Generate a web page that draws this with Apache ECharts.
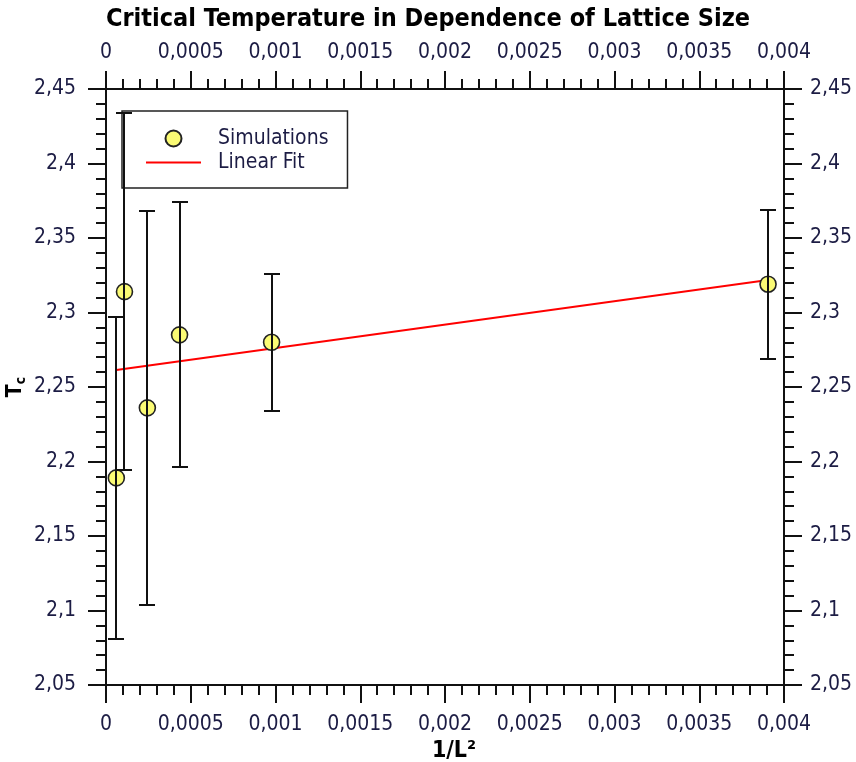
<!DOCTYPE html>
<html>
<head>
<meta charset="utf-8">
<title>Critical Temperature in Dependence of Lattice Size</title>
<script src="https://cdn.jsdelivr.net/npm/echarts@6/dist/echarts.min.js"></script>
<style>
  html, body { margin: 0; padding: 0; background: #ffffff; }
  #chart { width: 856px; height: 762px; }
</style>
</head>
<body>
<div id="chart"></div>
<script>
// Inverse squared lattice size 1/L^2 for each simulation
const invL2 = [0.000061, 0.000109, 0.000244, 0.000434, 0.000977, 0.003906];
// Critical temperature Tc obtained from each simulation
const tc = [2.189, 2.314, 2.236, 2.285, 2.280, 2.319];
// Uncertainty (half-length of the error bar) of each Tc
const tcErr = [0.108, 0.120, 0.132, 0.089, 0.046, 0.050];
// End points of the linear fit line
const fitX = [0.000061, 0.003906];
const fitY = [2.2614, 2.3218];

const FONT = "'DejaVu Sans Condensed', 'Noto Sans', sans-serif";
const LABEL_COLOR = '#1c1c44';

function commaNum(v) {
  return String(+v.toFixed(6)).replace('.', ',');
}

const chart = echarts.init(document.getElementById('chart'), null, { renderer: 'canvas' });

function xAxisDef(pos) {
  return {
    type: 'value',
    position: pos,
    min: 0,
    max: 0.004,
    interval: 0.0005,
    axisLine: { show: true, onZero: false, lineStyle: { color: '#111', width: 2 } },
    axisTick: { show: true, inside: false, length: 18, lineStyle: { color: '#111', width: 2 } },
    minorTick: { show: true, splitNumber: 5, length: 10, lineStyle: { color: '#111', width: 2 } },
    splitLine: { show: false },
    minorSplitLine: { show: false },
    axisLabel: {
      margin: pos === 'bottom' ? 29 : 26,
      color: LABEL_COLOR,
      fontFamily: FONT,
      fontSize: 21,
      formatter: commaNum,
      showMinLabel: true,
      showMaxLabel: true
    }
  };
}

function yAxisDef(pos) {
  return {
    type: 'value',
    position: pos,
    min: 2.05,
    max: 2.45,
    interval: 0.05,
    axisLine: { show: true, onZero: false, lineStyle: { color: '#111', width: 2 } },
    axisTick: { show: true, inside: false, length: 18, lineStyle: { color: '#111', width: 2 } },
    minorTick: { show: true, splitNumber: 5, length: 10, lineStyle: { color: '#111', width: 2 } },
    splitLine: { show: false },
    minorSplitLine: { show: false },
    axisLabel: {
      margin: pos === 'left' ? 30 : 26,
      color: LABEL_COLOR,
      fontFamily: FONT,
      fontSize: 21,
      formatter: commaNum,
      showMinLabel: true,
      showMaxLabel: true
    }
  };
}

const bottomX = xAxisDef('bottom');
bottomX.name = '1/L\u00B2';
bottomX.nameLocation = 'middle';
bottomX.nameGap = 55;
bottomX.nameMoveOverlap = false;
bottomX.nameTextStyle = {
  fontFamily: FONT, fontWeight: 'bold', fontSize: 23, color: '#000',
  padding: [0, 0, 0, 18]
};

const leftY = yAxisDef('left');
leftY.name = 'T{sub|c}';
leftY.nameLocation = 'middle';
leftY.nameGap = 78;
leftY.nameRotate = 90;
leftY.nameMoveOverlap = false;
leftY.nameTextStyle = {
  fontFamily: FONT, fontWeight: 'bold', fontSize: 21, color: '#000',
  rich: {
    sub: { fontFamily: FONT, fontWeight: 'bold', fontSize: 14, color: '#000', verticalAlign: 'bottom', padding: [10, 0, 0, 0] }
  }
};

const option = {
  backgroundColor: '#ffffff',
  animation: false,
  title: {
    text: 'Critical Temperature in Dependence of Lattice Size',
    left: 'center',
    top: 2,
    textStyle: { fontFamily: FONT, fontWeight: 'bold', fontSize: 25, color: '#000' }
  },
  grid: {
    left: 106, right: 72, top: 89, bottom: 77,
    containLabel: false,
    outerBoundsMode: 'none'
  },
  legend: {
    orient: 'vertical',
    left: 122,
    top: 111,
    padding: [17, 19, 15, 23],
    itemGap: 3,
    itemWidth: 55,
    itemHeight: 16,
    borderColor: '#222',
    borderWidth: 1.5,
    borderRadius: 0,
    backgroundColor: 'rgba(255,255,255,0)',
    textStyle: {
      fontFamily: FONT, fontSize: 21, color: LABEL_COLOR,
      padding: [0, 0, 0, 12]
    },
    data: [
      { name: 'Simulations' },
      { name: 'Linear Fit', itemStyle: { opacity: 0 } }
    ]
  },
  xAxis: [bottomX, xAxisDef('top')],
  yAxis: [leftY, yAxisDef('right')],
  series: [
    {
      name: 'Linear Fit',
      type: 'line',
      xAxisIndex: 0,
      yAxisIndex: 0,
      symbol: 'none',
      z: 2,
      lineStyle: { color: '#ff0000', width: 2 },
      itemStyle: { color: '#ff0000' },
      data: fitX.map((x, i) => [x, fitY[i]])
    },
    {
      name: 'Simulations',
      type: 'scatter',
      xAxisIndex: 0,
      yAxisIndex: 0,
      symbol: 'circle',
      symbolSize: 16,
      z: 3,
      itemStyle: { color: '#fbfb74', borderColor: '#222', borderWidth: 1.6, opacity: 1 },
      emphasis: { disabled: true },
      data: invL2.map((x, i) => [x, tc[i]])
    },
    {
      name: 'errors',
      type: 'custom',
      xAxisIndex: 0,
      yAxisIndex: 0,
      z: 4,
      silent: true,
      data: invL2.map((x, i) => [x, tc[i], tcErr[i]]),
      encode: { x: 0, y: 1 },
      renderItem: function (params, api) {
        const x = api.value(0);
        const y = api.value(1);
        const e = api.value(2);
        const top = api.coord([x, y + e]);
        const bot = api.coord([x, y - e]);
        const half = 8;
        const cx = Math.round(top[0]);
        const style = { stroke: '#111', lineWidth: 2 };
        return {
          type: 'group',
          children: [
            { type: 'line', shape: { x1: cx, y1: top[1], x2: cx, y2: bot[1] }, style: style },
            { type: 'line', shape: { x1: cx - half, y1: Math.round(top[1]), x2: cx + half, y2: Math.round(top[1]) }, style: style },
            { type: 'line', shape: { x1: cx - half, y1: Math.round(bot[1]), x2: cx + half, y2: Math.round(bot[1]) }, style: style }
          ]
        };
      }
    }
  ]
};

chart.setOption(option);
</script>
</body>
</html>
